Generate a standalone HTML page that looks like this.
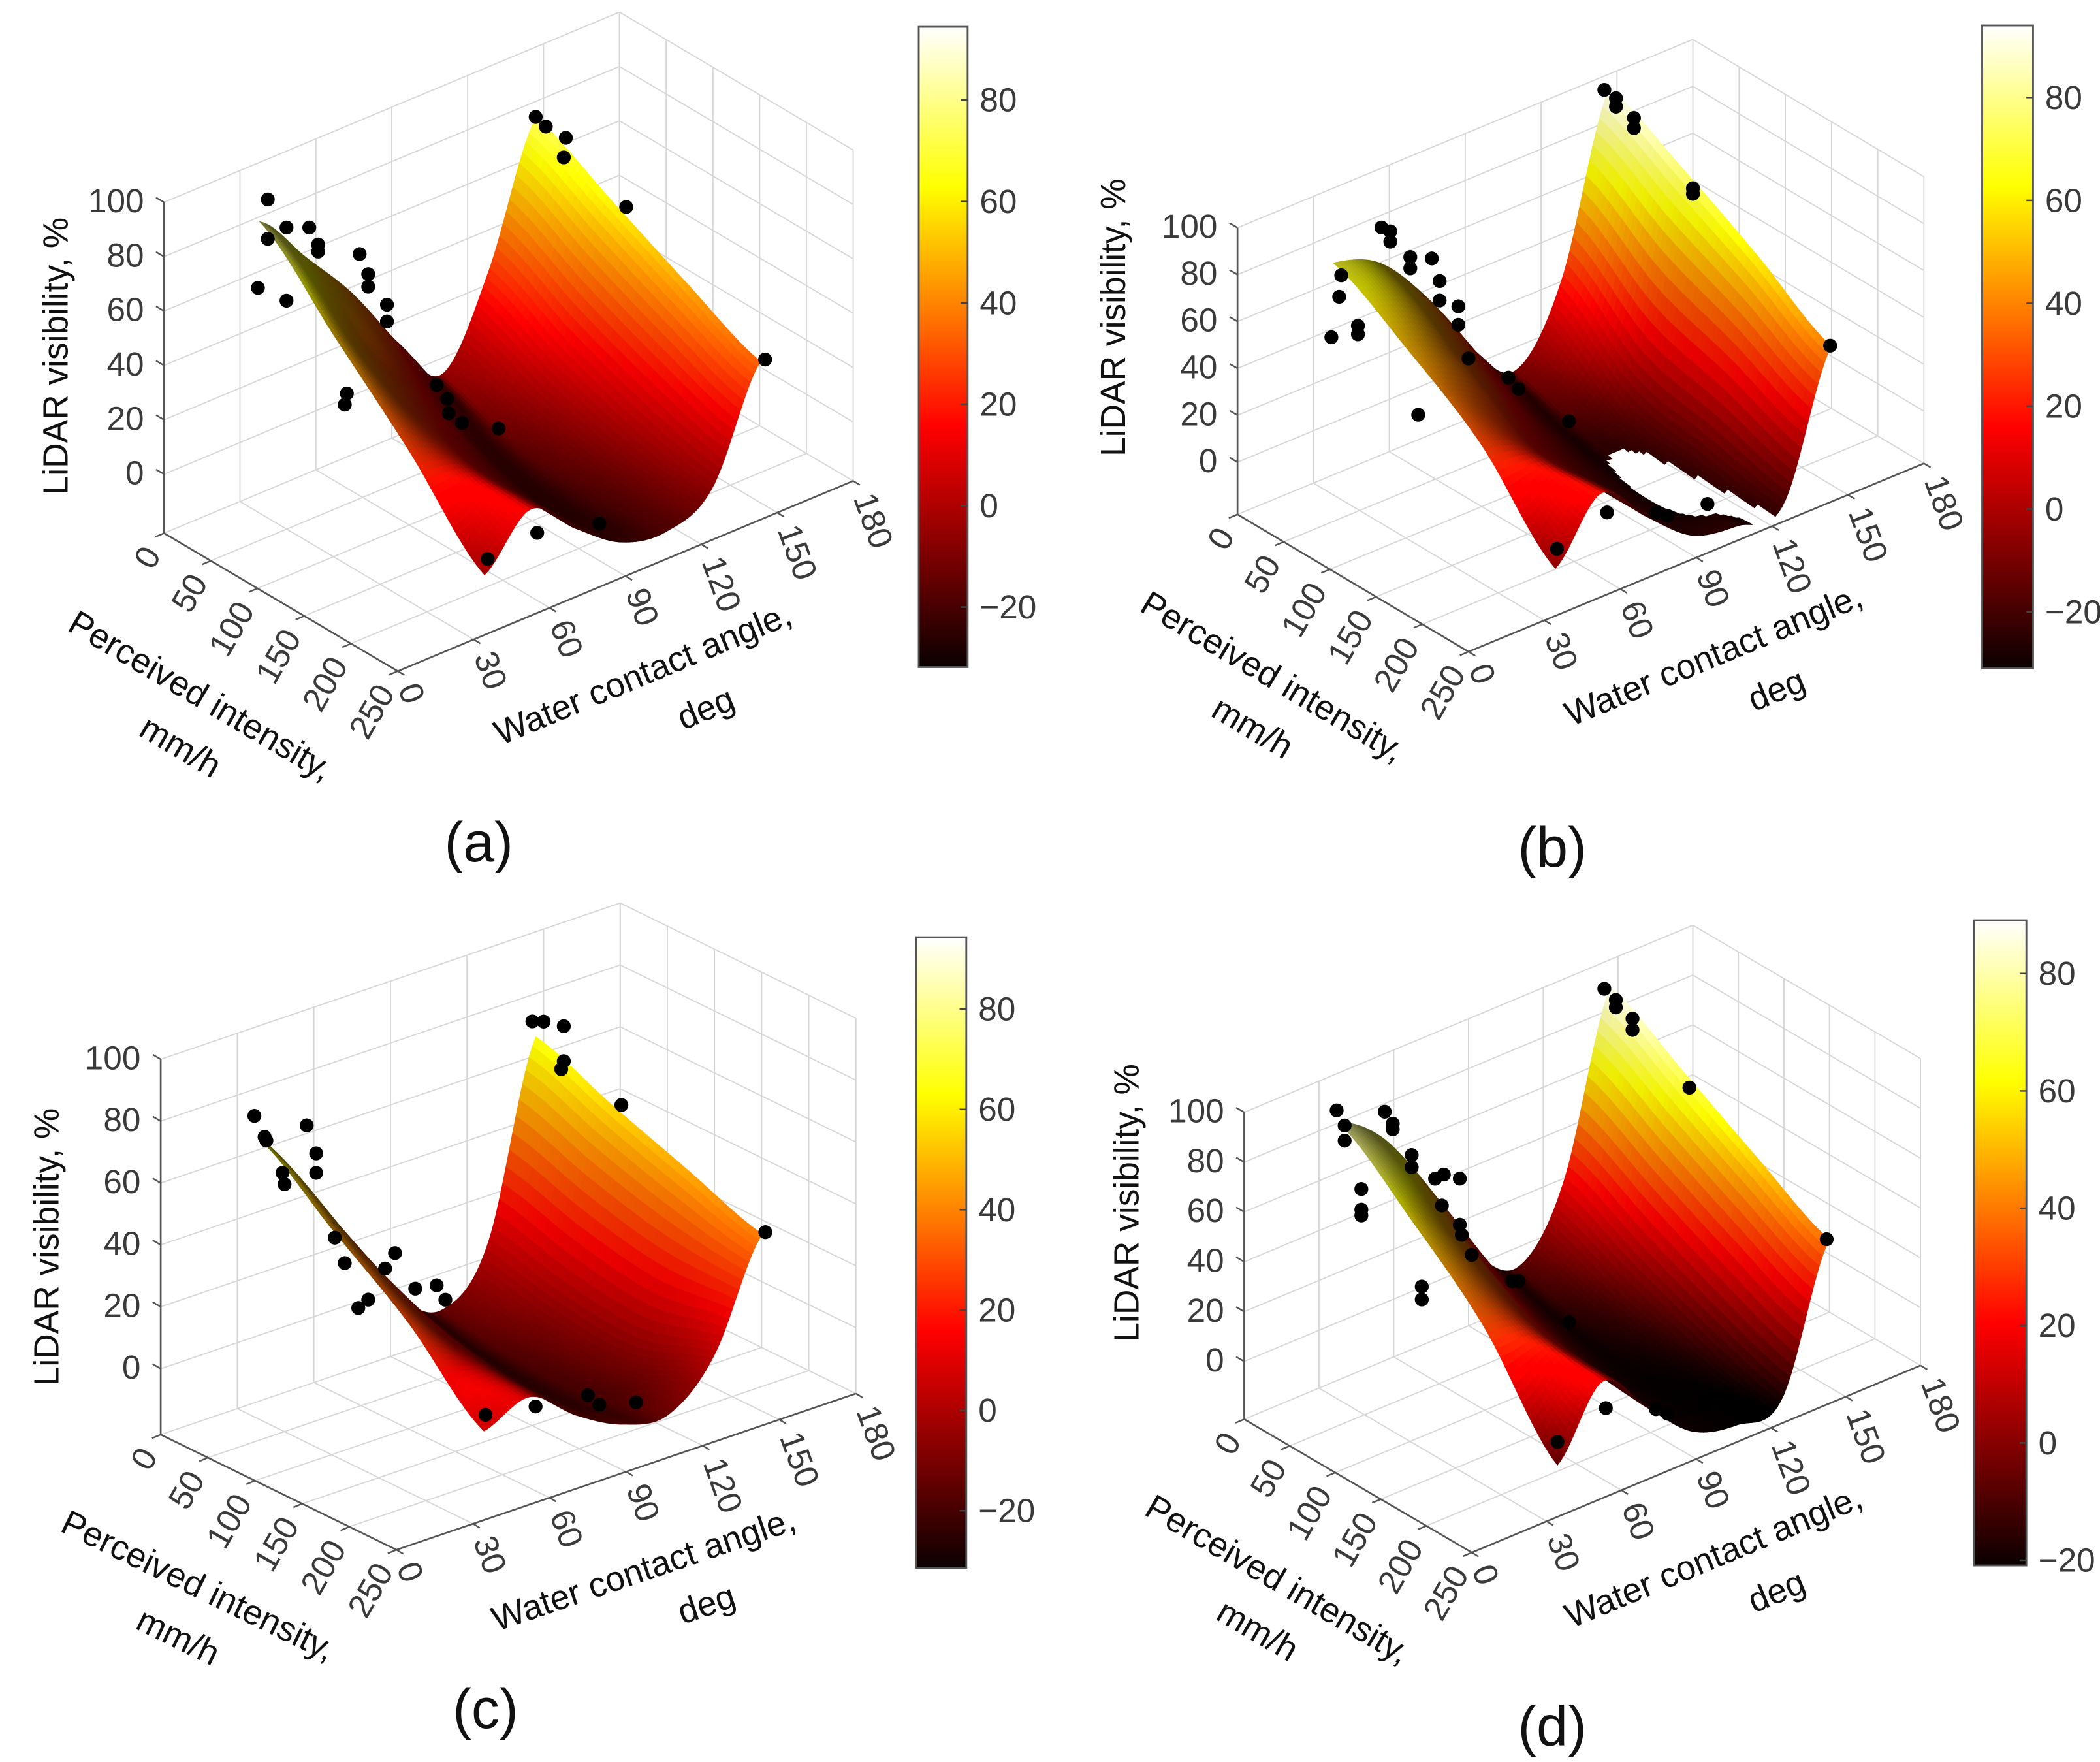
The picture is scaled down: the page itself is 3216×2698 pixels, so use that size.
<!DOCTYPE html>
<html><head><meta charset="utf-8"><title>LiDAR visibility surfaces</title>
<style>
html,body{margin:0;padding:0;background:#fff;}
svg{display:block;}
text{font-family:"Liberation Sans",Arial,sans-serif;}
</style></head>
<body>
<svg id="fig" xmlns="http://www.w3.org/2000/svg" width="3216" height="2698" viewBox="0 0 1568 1315.4">
<defs>
<linearGradient id="hot" x1="0" y1="1" x2="0" y2="0">
<stop offset="0" stop-color="#0b0000"/>
<stop offset="0.375" stop-color="#ff0000"/>
<stop offset="0.75" stop-color="#ffff00"/>
<stop offset="1" stop-color="#ffffff"/>
</linearGradient>
</defs>
<rect x="0" y="0" width="1568" height="1315.4" fill="#fff"/>
</svg>
<script>
// ---- shared axis data ----
const zTicks = [0, 20, 40, 60, 80, 100];
const iTicks = [0, 50, 100, 150, 200, 250];
const aTicks = [0, 30, 60, 90, 120, 150, 180];
const cbTicks = [-20, 0, 20, 40, 60, 80];
const gridI = [0, 80, 160, 240];
const gridA = [38, 56, 74, 92, 110, 128, 147];

// ---- surface control values (rows: intensity, cols: contact angle) ----
const surfA = [[78,58,38,13,-6,24,74],[52,34,16,-6,-14,10,60],[26,18,2,-14,-18,0,46],[-3,14,0,-12,-15,-6,33]];
const surfB = [[68,60,38,8,-10,20,94],[50,40,18,-6,-20,-5,78],[28,20,2,-14,-26,-12,60],[-6,18,0,-16,-20,-19,40]];
const surfC = [[64,42,18,-2,-12,4,66],[46,28,8,-8,-16,-2,56],[28,16,2,-11,-16,-4,47],[5,11,0,-8,-10,4,38]];
const surfD = [[80,66,38,6,-8,18,89],[58,44,18,-4,-16,4,72],[32,26,6,-12,-20,-8,55],[-6,20,2,-15,-20,-17,39]];

// ---- measured points ----
const dotsAI = [0,0,0,0,0,0,0,0,0,0,0,0,0,120,120,120,120,120,120,120,240,240,240,0,0,0,0,80,240];
const dotsAA = [41,37.1,41,48.4,48.4,57.4,60.9,60.9,77.3,80.7,80.7,88.1,88.1,27.9,27.1,63.4,67.6,68.2,73.4,87.9,39.2,58.8,83.4,146.9,150.9,158.8,158,153.1,148.9];
const dotsAZ = [85.1,54.1,70.6,71.9,45,68.4,60.8,58.2,50.9,42.2,37.6,28.1,21.9,43.2,39.4,32.5,25.8,20.3,14.7,7,2.3,4.3,-1.9,74.3,69.2,62,55.1,55,33];

const dotsBI = [0,0,0,0,0,0,0,0,0,0,0,0,0,0,0,0,120,120,120,120,240,240,240,240,240,0,0,0,0,0,80,80,240];
const dotsBA = [56.9,60.4,60.4,41,40.2,37.1,47.6,47.6,68.3,68.3,76.8,79.9,79.9,87.3,87.3,91.3,27.6,63.3,67.3,87.2,38.6,58.4,77.8,82.3,98.1,145,149.6,149.6,156.7,156.7,150.8,150.8,146.6];
const dotsBZ = [74.7,71.5,67.1,61.4,52.6,36.7,36.9,33.3,57,52.2,52.6,41.6,33.3,27.5,19.6,3.5,36,35.9,29.3,6.6,2,8.7,0,-3.4,-5.4,94.1,88.5,84.9,76.9,72.6,68.3,65.9,40.5];

const dotsCI = [0,0,0,0,0,0,0,0,0,0,0,0,0,0,0,0,0,240,240,240,240,240,0,0,0,0,0,80,240];
const dotsCA = [36.7,40.7,41.4,47.7,48.5,57.2,60.9,60.9,68.2,72.1,77.4,81.3,87.9,91.8,99.7,108.1,111.5,38.6,58.2,78.7,83.2,97.6,145.6,150,157.9,157.9,156.9,150.9,148.2];
const dotsCZ = [71.4,63.5,62.1,49.9,46,62.6,52.5,46.2,23.2,13.9,-2.1,-0.5,7.7,11.6,-2.1,-3.4,-9,10,7.2,5.1,0.8,-2.5,71.4,70.1,66.4,55.1,52.8,54.8,38.3];

const dotsDI = [0,0,0,0,0,0,0,0,0,0,0,0,0,0,0,0,0,0,120,120,120,120,120,240,240,240,240,240,0,0,0,0,0,80,240];
const dotsDA = [37.1,40.3,40.3,47,47,47,56.4,59.6,59.6,67.2,67.2,76.6,80.1,86.5,79.3,86.5,87.3,91.3,27.4,27.4,63.6,66.3,86.5,38,57.4,77.5,82.2,97.2,144.5,149.1,149.1,155.8,155.8,149.4,146];
const dotsDZ = [85.3,77.9,71.8,49.6,41.3,39,76.7,70.6,68.3,54.8,49.9,41.4,41.6,37.3,29.5,18.8,14.4,4.7,44.3,39.1,31.4,30.3,5.4,3.2,8.7,-0.1,-3.9,-6.6,89.3,82.9,79.9,72.6,68.1,64.7,39.5];

const NS = 'http://www.w3.org/2000/svg';
const svg = document.getElementById('fig');

const panels = [
 {key:'a', x0:122.5, y0:354, dxI:0.698, dyI:0.412, dxA:1.889, dyA:-0.789, s:2.03, zf:-21.7,
  cb:{x:686, y:20, w:36.5, h:478, zero:377.5, k:3.785}, surf:surfA, dI:dotsAI, dA:dotsAA, dZ:dotsAZ, cap:[357.5,643], zt:[42,266]},
 {key:'b', x0:924, y0:345, dxI:0.69, dyI:0.41, dxA:1.889, dyA:-0.781, s:1.75, zf:-22.3,
  cb:{x:1480, y:19, w:38, h:480, zero:380, k:3.84}, surf:surfB, dI:dotsBI, dA:dotsBA, dZ:dotsBZ, cap:[1159,647], zt:[831.5,237]},
 {key:'c', x0:120, y0:1021.8, dxI:0.704, dyI:0.344, dxA:1.906, dyA:-0.648, s:2.31, zf:-21.3,
  cb:{x:684, y:699.7, w:37.5, h:470.7, zero:1052.9, k:3.745}, surf:surfC, dI:dotsCI, dA:dotsCA, dZ:dotsCZ, cap:[362.5,1290], zt:[35,931]},
 {key:'d', x0:929, y0:1016.4, dxI:0.68, dyI:0.398, dxA:1.861, dyA:-0.776, s:1.86, zf:-23.2,
  cb:{x:1474, y:687, w:39, h:481.7, zero:1077.2, k:4.38}, surf:surfD, dI:dotsDI, dA:dotsDA, dZ:dotsDZ, cap:[1159,1303], zt:[841.5,898]}
];

function el(tag, parent) { const e = document.createElementNS(NS, tag); parent.appendChild(e); return e; }
function proj(g, I, A, z) { return [g.x0 + g.dxI*I + g.dxA*A, g.y0 + g.dyI*I + g.dyA*A - g.s*z]; }
function clamp(v) { return Math.max(0, Math.min(1, v)); }
function hot(t) { t = clamp(t); return [Math.min(1, t/0.375), clamp((t-0.375)/0.375), clamp((t-0.75)/0.25)]; }
function cr(p0,p1,p2,p3,t){ return 0.5*((2*p1)+(-p0+p2)*t+(2*p0-5*p1+4*p2-p3)*t*t+(-p0+3*p1-3*p2+p3)*t*t*t); }
function interp1(xs, ys, x) {
  let k = 0; while (k < xs.length-2 && x > xs[k+1]) k++;
  const t = (x - xs[k])/(xs[k+1]-xs[k]);
  const p0 = ys[Math.max(k-1,0)], p1 = ys[k], p2 = ys[k+1], p3 = ys[Math.min(k+2, ys.length-1)];
  return cr(p0,p1,p2,p3,t);
}
function sampleZ(S, I, A) { const col = S.map(r => interp1(gridA, r, A)); return interp1(gridI, col, I); }

function line(parent, p, q, stroke, w, name) {
  const l = el('line', parent);
  l.setAttribute('x1', p[0]); l.setAttribute('y1', p[1]); l.setAttribute('x2', q[0]); l.setAttribute('y2', q[1]);
  l.setAttribute('stroke', stroke); l.setAttribute('stroke-width', w);
  
  
  return l;
}
function txt(parent, x, y, str, size, fill, anchor, rot, name, family) {
  const t = el('text', parent);
  t.setAttribute('x', x); t.setAttribute('y', y);
  t.setAttribute('font-size', size); t.setAttribute('fill', fill);
  t.setAttribute('text-anchor', anchor); t.setAttribute('dominant-baseline', 'central');
  if (family) t.setAttribute('font-family', family);
  if (rot) t.setAttribute('transform', 'rotate(' + rot + ' ' + x + ' ' + y + ')');
  t.textContent = str;
  
  
  return t;
}

const Ldir = (function(){ const v=[0.6,-0.6,0.55]; const n=Math.hypot(...v); return v.map(c=>c/n); })();

panels.forEach(g => {
  const P = el('g', svg);
  
  
  const zTop = 100, zf = g.zf;
  const gridC = '#d6d6d6';

  const G = el('g', P);
  
  
  aTicks.forEach(A => line(G, proj(g,0,A,zf), proj(g,0,A,zTop), gridC, 0.9, 'left-wall-gridline'));
  zTicks.forEach(z => line(G, proj(g,0,0,z), proj(g,0,180,z), gridC, 0.9, 'left-wall-gridline'));
  iTicks.forEach(I => line(G, proj(g,I,180,zf), proj(g,I,180,zTop), gridC, 0.9, 'right-wall-gridline'));
  zTicks.forEach(z => line(G, proj(g,0,180,z), proj(g,250,180,z), gridC, 0.9, 'right-wall-gridline'));
  iTicks.forEach(I => line(G, proj(g,I,0,zf), proj(g,I,180,zf), gridC, 0.9, 'floor-gridline'));
  aTicks.forEach(A => line(G, proj(g,0,A,zf), proj(g,250,A,zf), gridC, 0.9, 'floor-gridline'));

  const axC = '#555';
  line(P, proj(g,0,0,zf), proj(g,0,0,zTop), axC, 1.3, 'z-axis-line');
  line(P, proj(g,0,0,zf), proj(g,250,0,zf), axC, 1.3, 'x-axis-line');
  line(P, proj(g,250,0,zf), proj(g,250,180,zf), axC, 1.3, 'y-axis-line');
  zTicks.forEach(z => {
    const p = proj(g,0,0,z);
    line(P, p, [p[0]-6, p[1]-3.5], axC, 1.2, 'z-tick');
    txt(P, g.x0 - 15, p[1] - 1, String(z), 25, '#3a3a3a', 'end', 0, 'z-tick-label');
  });
  iTicks.forEach(I => {
    const p = proj(g,I,0,zf);
    line(P, p, [p[0]-6.5, p[1]+2.7], axC, 1.2, 'x-tick');
    txt(P, p[0]-9, p[1]+12, String(I), 25, '#3a3a3a', 'end', -60, 'x-tick-label');
  });
  aTicks.forEach(A => {
    const p = proj(g,250,A,zf);
    line(P, p, [p[0]+5, p[1]+3], axC, 1.2, 'y-tick');
    txt(P, p[0]+8, p[1]+10, String(A), 25, '#3a3a3a', 'start', 70, 'y-tick-label');
  });
  const angI = Math.atan2(g.dyI, g.dxI)*180/Math.PI;
  const angA = Math.atan2(g.dyA, g.dxA)*180/Math.PI;
  const mI = proj(g,125,0,zf), mA = proj(g,250,90,zf);
  txt(P, mI[0]-60, mI[1]+70, 'Perceived intensity,', 26, '#111', 'middle', angI, 'x-axis-title');
  txt(P, mI[0]-75, mI[1]+108, 'mm/h', 26, '#111', 'middle', angI, 'x-axis-title-units');
  txt(P, mA[0]+13, mA[1]+73, 'Water contact angle,', 26, '#111', 'middle', angA, 'y-axis-title');
  txt(P, mA[0]+60, mA[1]+99, 'deg', 26, '#111', 'middle', angA, 'y-axis-title-units');
  txt(P, g.zt[0], g.zt[1], 'LiDAR visibility, %', 26, '#111', 'middle', -90, 'z-axis-title');

  const vmin = -(g.cb.y + g.cb.h - g.cb.zero)/g.cb.k;
  const vmax = (g.cb.zero - g.cb.y)/g.cb.k;

  const nA = 84, nI = 50;
  const I0 = gridI[0], I1 = gridI[gridI.length-1], A0 = gridA[0], A1 = gridA[gridA.length-1];
  const Z = [];
  for (let i = 0; i <= nI; i++) { Z.push([]); for (let j = 0; j <= nA; j++) {
    Z[i].push(sampleZ(g.surf, I0+(I1-I0)*i/nI, A0+(A1-A0)*j/nA)); } }
  const dI = (I1-I0)/nI, dA = (A1-A0)/nA;
  const quads = [];
  for (let i = 0; i < nI; i++) for (let j = 0; j < nA; j++) {
    const z00=Z[i][j], z01=Z[i][j+1], z10=Z[i+1][j], z11=Z[i+1][j+1];
    const zm = (z00+z01+z10+z11)/4;
    if (zm < zf || zm > zTop) continue;
    const Ia = I0+dI*i, Aa = A0+dA*j;
    const gI = ((z10+z11)-(z00+z01))/2/dI, gA = ((z01+z11)-(z00+z10))/2/dA;
    let n = [-gI*250/120, -gA*180/120, 1]; const nn = Math.hypot(...n); n = n.map(c=>c/nn);
    const ndl = n[0]*Ldir[0]+n[1]*Ldir[1]+n[2]*Ldir[2];
    const shade = Math.min(1.05, 0.33 + 0.85*Math.max(0, ndl));
    const c = hot((zm - vmin)/(vmax - vmin)).map(v => Math.min(255, Math.round(v*255*shade)));
    const pts = [proj(g,Ia,Aa,z00), proj(g,Ia,Aa+dA,z01), proj(g,Ia+dI,Aa+dA,z11), proj(g,Ia+dI,Aa,z10)];
    const depth = (Ia+dI/2)/250 - (Aa+dA/2)/180 + 0.6*zm/120;
    quads.push({pts, col:'rgb('+c[0]+','+c[1]+','+c[2]+')', depth});
  }
  quads.sort((a,b) => a.depth - b.depth);
  const S = el('g', P);
  
  
  quads.forEach(q => {
    const p = el('path', S);
    p.setAttribute('d', 'M' + q.pts.map(v => v[0].toFixed(2)+','+v[1].toFixed(2)).join('L') + 'Z');
    p.setAttribute('fill', q.col); p.setAttribute('stroke', q.col); p.setAttribute('stroke-width', '0.6');
    
    
  });

  const D = el('g', P);
  
  
  for (let k = 0; k < g.dI.length; k++) {
    const p = proj(g, g.dI[k], g.dA[k], g.dZ[k]);
    const c = el('circle', D);
    c.setAttribute('cx', p[0].toFixed(2)); c.setAttribute('cy', p[1].toFixed(2)); c.setAttribute('r', 5.2);
    c.setAttribute('fill', '#000');
    
    
  }

  const cbG = el('g', P);
  
  
  const r = el('rect', cbG);
  r.setAttribute('x', g.cb.x); r.setAttribute('y', g.cb.y); r.setAttribute('width', g.cb.w); r.setAttribute('height', g.cb.h);
  r.setAttribute('fill', 'url(#hot)'); r.setAttribute('stroke', '#555'); r.setAttribute('stroke-width', '1.4');
  
  
  cbTicks.forEach(v => {
    const y = g.cb.zero - v*g.cb.k;
    if (y < g.cb.y || y > g.cb.y + g.cb.h) return;
    line(cbG, [g.cb.x+g.cb.w-5, y], [g.cb.x+g.cb.w, y], '#444', 1.2, 'colorbar-tick');
    txt(cbG, g.cb.x+g.cb.w+9, y, v < 0 ? '\u2212' + Math.abs(v) : String(v), 25, '#3a3a3a', 'start', 0, 'colorbar-tick-label');
  });

  const cap = el('text', P);
  cap.setAttribute('x', g.cap[0]); cap.setAttribute('y', g.cap[1]);
  cap.setAttribute('font-size', 42); cap.setAttribute('text-anchor', 'middle');
  cap.setAttribute('font-family', '"Liberation Serif", "Times New Roman", serif');
  cap.setAttribute('fill', '#111');
  cap.textContent = '(' + g.key + ')';
  
  
});
</script>
</body></html>
